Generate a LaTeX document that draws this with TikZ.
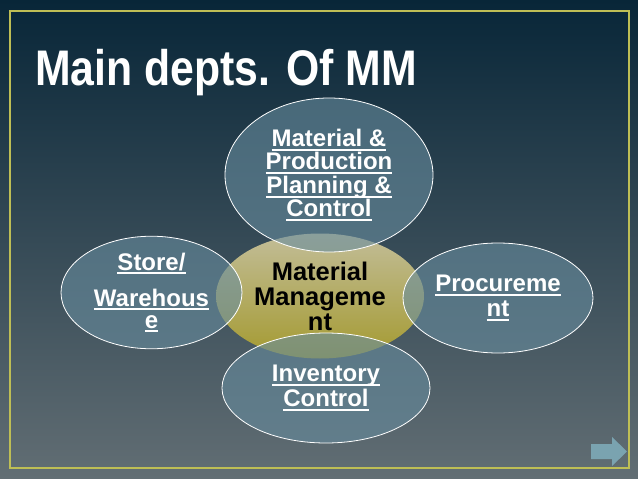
\documentclass[tikz,border=0pt]{standalone}
\usepackage{fontspec}
\setmainfont{Liberation Sans}
\usepackage{tikz}
\usetikzlibrary{shapes.geometric}

\definecolor{slidetop}{RGB}{8,38,56}
\definecolor{slidemid}{RGB}{28,60,78}
\definecolor{slidebot}{RGB}{98,110,116}
\definecolor{framecol}{RGB}{190,190,85}
\definecolor{bubble}{RGB}{103,140,158}
\definecolor{hubtop}{RGB}{194,189,152}
\definecolor{hubbot}{RGB}{164,154,48}
\definecolor{nextcol}{RGB}{122,163,176}

\newsavebox\ulbox
\newcommand\ulbar[1]{\sbox\ulbox{#1}\rlap{\rule[-4.2pt]{\wd\ulbox}{1.8pt}}\usebox\ulbox}

\begin{document}
\begin{tikzpicture}[x=1pt,y=-1pt,semithick]

        \tikzstyle{dept}=[ellipse,draw=white,line width=0.8pt,fill=bubble,fill opacity=0.6,text opacity=1,draw opacity=1,
                          text=white,inner sep=0pt,align=center,font=\fontsize{24}{23.5}\selectfont\bfseries]
        \tikzstyle{hub}=[ellipse,top color=hubtop,bottom color=hubbot,inner sep=0pt,align=center,
                         text=black,font=\fontsize{25.5}{25}\selectfont\bfseries]

        \useasboundingbox (0,0) rectangle (638,479);
        \shade[top color=slidetop,middle color=slidemid,bottom color=slidebot] (0,0) rectangle (638,479);
        \draw[framecol,line width=1.2pt] (10,11) rectangle (629,468);

        \node[anchor=base west,inner sep=0pt,xscale=0.855,text=white,font=\fontsize{50}{50}\selectfont\bfseries]
              (title) at (35,85) {Main depts. Of MM};

        % centre first, the four depts lie over it
        \node[hub,minimum width=208pt,minimum height=125pt] (mm) at (320,296) {Material\\Manageme\\nt};

        \node[dept,minimum width=208pt,minimum height=154pt] (mppc)  at (329,175)   {\ulbar{Material \&}\\\ulbar{Production}\\\ulbar{Planning \&}\\\ulbar{Control}};
        \node[dept,minimum width=181pt,minimum height=111pt] (store) at (151.5,292.5) {\ulbar{Store/}\\[12.5pt]\ulbar{Warehous}\\[-1.5pt]\ulbar{e}};
        \node[dept,minimum width=190pt,minimum height=110pt] (proc)  at (498,298)   {\ulbar{Procureme}\\[1.5pt]\ulbar{nt}};
        \node[dept,minimum width=208pt,minimum height=110pt] (inv)   at (326,388)   {\ulbar{Inventory}\\[1.5pt]\ulbar{Control}};

        \fill[nextcol] (591,444) -- (612,444) -- (612,437) -- (627,451.5) -- (612,466) -- (612,459) -- (591,459) -- cycle;

\end{tikzpicture}
\end{document}
